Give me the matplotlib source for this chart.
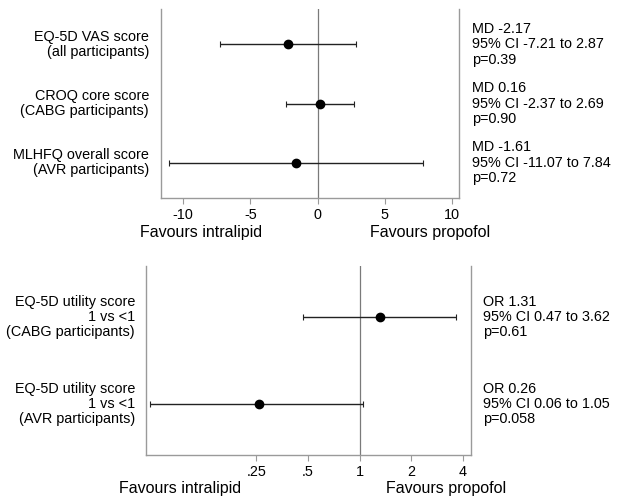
import matplotlib
matplotlib.use("Agg")
import matplotlib.pyplot as plt
import matplotlib.transforms as mtransforms
from matplotlib.ticker import FixedLocator, FixedFormatter, NullLocator

plt.rcParams['font.family'] = ['Liberation Sans', 'DejaVu Sans']
plt.rcParams['axes.unicode_minus'] = False

# top panel: mean differences
md_labels = ["EQ-5D VAS score\n(all participants)",
             "CROQ core score\n(CABG participants)",
             "MLHFQ overall score\n(AVR participants)"]
md_est = [-2.17, 0.16, -1.61]
md_lo = [-7.21, -2.37, -11.07]
md_hi = [2.87, 2.69, 7.84]
md_text = ["MD -2.17\n95% CI -7.21 to 2.87\np=0.39",
           "MD 0.16\n95% CI -2.37 to 2.69\np=0.90",
           "MD -1.61\n95% CI -11.07 to 7.84\np=0.72"]
md_ticks = [-10, -5, 0, 5, 10]

# bottom panel: odds ratios
or_labels = ["EQ-5D utility score\n1 vs <1\n(CABG participants)",
             "EQ-5D utility score\n1 vs <1\n(AVR participants)"]
or_est = [1.31, 0.26]
or_lo = [0.47, 0.06]
or_hi = [3.62, 1.05]
or_text = ["OR 1.31\n95% CI 0.47 to 3.62\np=0.61",
           "OR 0.26\n95% CI 0.06 to 1.05\np=0.058"]
or_ticks = [0.25, 0.5, 1, 2, 4]
or_ticklabels = [".25", ".5", "1", "2", "4"]

fs = 10.4
ls = 1.1
spine_col = "#9a9a9a"

fig = plt.figure(figsize=(6.22, 5.0), dpi=100)
ax1 = fig.add_axes([0.2588, 0.604, 0.4791, 0.378])
ax2 = fig.add_axes([0.2347, 0.090, 0.5225, 0.378])


def forest(ax, est, lo, hi, ref):
    ys = list(range(1, len(est) + 1))
    ax.axvline(ref, color="#7a7a7a", lw=0.9, zorder=1)
    xerr = [[e - l for e, l in zip(est, lo)], [h - e for e, h in zip(est, hi)]]
    ax.errorbar(est, ys, xerr=xerr, fmt="o", color="black", ecolor="#222222",
                elinewidth=1.0, capsize=2.5, capthick=0.8, markersize=6, zorder=3)
    ax.spines["top"].set_visible(False)
    for s in ["left", "right", "bottom"]:
        ax.spines[s].set_color(spine_col)
        ax.spines[s].set_linewidth(1.0)
    ax.yaxis.set_major_locator(NullLocator())
    ax.tick_params(axis="x", length=4, width=0.8, color=spine_col, pad=3,
                   labelsize=fs)
    ax.tick_params(axis="x", which="minor", length=0)
    return ys


ys1 = forest(ax1, md_est, md_lo, md_hi, 0)
ax1.set_xlim(-11.63, 10.5)
ax1.set_ylim(3.6, 0.4)
ax1.set_xticks(md_ticks)

ys2 = forest(ax2, or_est, or_lo, or_hi, 1)
ax2.set_xscale("log")
ax2.set_xlim(0.057, 4.45)
ax2.set_ylim(2.586, 0.414)
ax2.xaxis.set_major_locator(FixedLocator(or_ticks))
ax2.xaxis.set_major_formatter(FixedFormatter(or_ticklabels))
ax2.xaxis.set_minor_locator(NullLocator())

# side texts
tr1 = mtransforms.blended_transform_factory(fig.transFigure, ax1.transData)
for y, lab, txt in zip(ys1, md_labels, md_text):
    fig.text(0.2395, y, lab, transform=tr1, ha="right", va="center",
             fontsize=fs, linespacing=ls)
    fig.text(0.759, y, txt, transform=tr1, ha="left", va="center",
             fontsize=fs, linespacing=ls)

tr2 = mtransforms.blended_transform_factory(fig.transFigure, ax2.transData)
for y, lab, txt in zip(ys2, or_labels, or_text):
    fig.text(0.217, y, lab, transform=tr2, ha="right", va="center",
             fontsize=fs, linespacing=ls)
    fig.text(0.7765, y, txt, transform=tr2, ha="left", va="center",
             fontsize=fs, linespacing=ls)

fig.text(0.323, 0.536, "Favours intralipid", ha="center", va="center", fontsize=11.5)
fig.text(0.691, 0.536, "Favours propofol", ha="center", va="center", fontsize=11.5)
fig.text(0.289, 0.022, "Favours intralipid", ha="center", va="center", fontsize=11.5)
fig.text(0.717, 0.022, "Favours propofol", ha="center", va="center", fontsize=11.5)

fig.savefig("out.png", dpi=100)
